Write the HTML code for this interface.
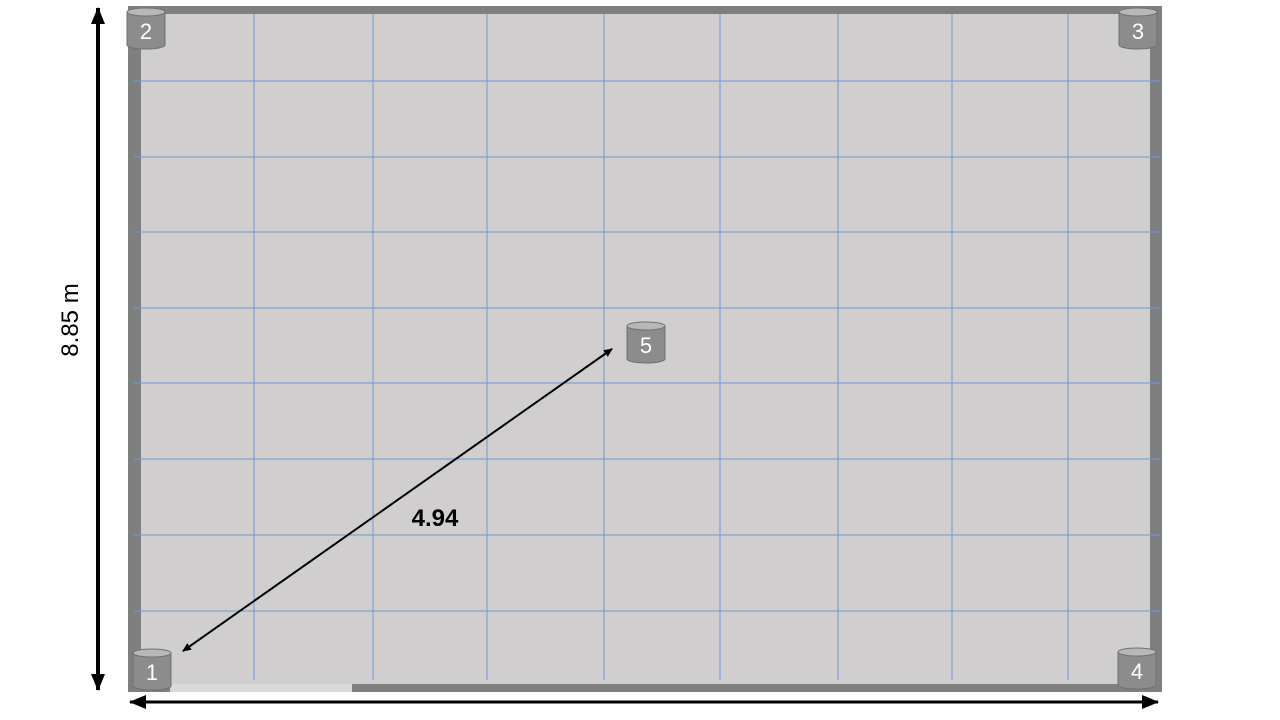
<!DOCTYPE html>
<html><head><meta charset="utf-8"><style>
html,body{margin:0;padding:0;background:#fff;width:1280px;height:720px;overflow:hidden}
svg{display:block}
text{font-family:"Liberation Sans",sans-serif}
</style></head><body>
<svg id="chart" width="1280" height="720" viewBox="0 0 1280 720">
<defs>
<marker id="ah" markerWidth="10" markerHeight="10" refX="8" refY="5" orient="auto-start-reverse" markerUnits="userSpaceOnUse"><path d="M0,1 L9,5 L0,9 Z" fill="#000"/></marker>
<marker id="ahb" markerWidth="20" markerHeight="20" refX="16" refY="8" orient="auto-start-reverse" markerUnits="userSpaceOnUse"><path d="M0,1 L17,8 L0,15 Z" fill="#000"/></marker>
</defs>
<rect x="128" y="6" width="1034" height="686" fill="#7f7f7f"/>
<rect x="141" y="14" width="1009" height="670" fill="#d0cecf"/>
<rect x="170" y="684" width="182" height="8" fill="#d9d9d9"/>
<g id="grid"></g>
<g id="arrows">
<line x1="98" y1="690" x2="98" y2="8" stroke="#000" stroke-width="4" marker-end="url(#ahb)" marker-start="url(#ahb)"/>
<line x1="130" y1="702" x2="1158" y2="702" stroke="#000" stroke-width="3" marker-end="url(#ahb)" marker-start="url(#ahb)"/>
<line x1="183" y1="651" x2="612" y2="349" stroke="#000" stroke-width="2" marker-end="url(#ah)" marker-start="url(#ah)"/>
</g>
<text transform="translate(78,320) rotate(-90)" text-anchor="middle" font-size="24" fill="#000">8.85 m</text>
<text x="435" y="526" text-anchor="middle" font-size="24" font-weight="bold" fill="#000">4.94</text>
<g id="nodes"></g>
</svg>
<script>
const gridX = [254, 373, 487, 604, 720, 838, 952, 1068];
const gridY = [81, 157, 232, 308, 383, 459, 535, 611];
const nodeIds = ["1", "2", "3", "4", "5"];
const nodeX = [152, 146, 1138, 1137, 646];
const nodeY = [669, 28, 28, 668, 342];
const NS = "http://www.w3.org/2000/svg";
const g = document.getElementById("grid");
gridX.forEach(x => {
  const l = document.createElementNS(NS, "line");
  
  
  l.setAttribute("x1", x); l.setAttribute("x2", x);
  l.setAttribute("y1", 14); l.setAttribute("y2", 680);
  l.setAttribute("stroke", "#6a9bd6"); l.setAttribute("stroke-width", "1");
  g.appendChild(l);
});
gridY.forEach(y => {
  const l = document.createElementNS(NS, "line");
  
  
  l.setAttribute("x1", 134); l.setAttribute("x2", 1160);
  l.setAttribute("y1", y); l.setAttribute("y2", y);
  l.setAttribute("stroke", "#6a9bd6"); l.setAttribute("stroke-width", "1");
  g.appendChild(l);
});
const n = document.getElementById("nodes");
nodeIds.forEach((id, i) => {
  const cx = nodeX[i], cy = nodeY[i];
  const grp = document.createElementNS(NS, "g");
  
  
  const body = document.createElementNS(NS, "path");
  body.setAttribute("d", `M${cx-19},${cy-16} L${cx-19},${cy+17} A19,4 0 0 0 ${cx+19},${cy+17} L${cx+19},${cy-16} Z`);
  body.setAttribute("fill", "#8c8c8c"); body.setAttribute("stroke", "#707070");
  grp.appendChild(body);
  const top = document.createElementNS(NS, "ellipse");
  top.setAttribute("cx", cx); top.setAttribute("cy", cy-16);
  top.setAttribute("rx", 19); top.setAttribute("ry", 4);
  top.setAttribute("fill", "#b8b8b8"); top.setAttribute("stroke", "#707070");
  grp.appendChild(top);
  const t = document.createElementNS(NS, "text");
  t.setAttribute("x", cx); t.setAttribute("y", cy+11);
  t.setAttribute("text-anchor", "middle"); t.setAttribute("font-size", "22");
  t.setAttribute("fill", "#fff");
  t.textContent = id;
  grp.appendChild(t);
  n.appendChild(grp);
});
</script>
</body></html>
